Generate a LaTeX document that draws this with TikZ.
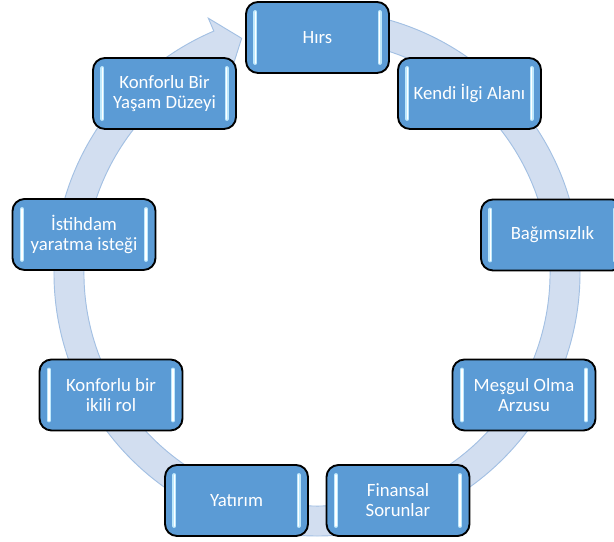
\documentclass[tikz,border=0pt]{standalone}
\usepackage{fontspec}
\setmainfont{Carlito}
\usetikzlibrary{calc}

\definecolor{boxblue}{RGB}{91,155,213}
\definecolor{ringfill}{RGB}{210,222,240}
\definecolor{ringline}{RGB}{163,192,227}
\definecolor{glowcyan}{RGB}{190,232,252}

\tikzset{
  stage/.style={draw=black, line width=1.6pt, rounded corners=0.36cm, fill=boxblue,
    text=white, minimum width=4.29cm, minimum height=2.13cm, align=center,
    font=\fontsize{16}{17}\selectfont},
  glow/.style={glowcyan, line width=3.4pt, line cap=round},
  glowcore/.style={white, line width=1.2pt, line cap=round}
}

\begin{document}
\begin{tikzpicture}[x=0.03cm, y=0.03cm]

% Picture frame
\clip (0,0) rectangle (614,542);

% Centre of the cycle
\coordinate (c) at (317,269);

% Circular arrow behind the boxes
\filldraw[fill=ringfill, draw=ringline, line width=0.8pt]
  ($(c)+(85:263)$) arc[start angle=85, end angle=-246.9, radius=263]
  -- ($(c)+(113.1:277)$) -- ($(c)+(107.8:246.5)$) -- ($(c)+(113.1:219)$)
  -- ($(c)+(113.1:233)$) arc[start angle=-246.9, end angle=85, radius=233]
  -- cycle;

% Stages
\node[stage] (hirs) at (317.5,504.5) {Hırs};
\node[stage] (ilgi) at (469.5,448.5) {Kendi İlgi Alanı};
\node[stage] (bagimsiz) at (552.5,307) {Bağımsızlık};
\node[stage] (mesgul) at (524,147) {Meşgul Olma\\Arzusu};
\node[stage] (finans) at (398,41.5) {Finansal\\Sorunlar};
\node[stage] (yatirim) at (236.5,41.5) {Yatırım};
\node[stage] (ikili) at (111,147) {Konforlu bir\\ikili rol};
\node[stage] (istihdam) at (84,307.5) {İstihdam\\yaratma isteği};
\node[stage] (yasam) at (164.5,448.5) {Konforlu Bir\\Yaşam Düzeyi};

% Light bars inside each box
\foreach \n in {hirs,ilgi,bagimsiz,mesgul,finans,yatirim,ikili,istihdam,yasam} {
  \draw[glow] ([xshift=0.31cm,yshift=-0.33cm]\n.north west) -- ([xshift=0.31cm,yshift=0.33cm]\n.south west);
  \draw[glow] ([xshift=-0.31cm,yshift=-0.33cm]\n.north east) -- ([xshift=-0.31cm,yshift=0.33cm]\n.south east);
  \draw[glowcore] ([xshift=0.31cm,yshift=-0.33cm]\n.north west) -- ([xshift=0.31cm,yshift=0.33cm]\n.south west);
  \draw[glowcore] ([xshift=-0.31cm,yshift=-0.33cm]\n.north east) -- ([xshift=-0.31cm,yshift=0.33cm]\n.south east);
}

\end{tikzpicture}
\end{document}
